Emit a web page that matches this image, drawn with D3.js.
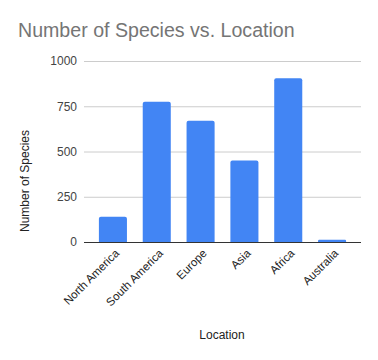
<!DOCTYPE html>
<html><head><meta charset="utf-8">
<script src="https://cdn.jsdelivr.net/npm/d3@7"></script>
<style>body{margin:0;background:#fff;} text{font-family:"Liberation Sans",Arial,sans-serif;}</style>
</head><body>
<svg id="c" width="378" height="360"></svg>
<script>
const categories = ["North America","South America","Europe","Asia","Africa","Australia"];
const species = [140, 775, 670, 450, 905, 12];
const yTicks = [0, 250, 500, 750, 1000];

const svg = d3.select("#c");
const x = d3.scaleBand().domain(categories).range([84, 361]).paddingInner(0.36).paddingOuter(0.34);
const y = d3.scaleLinear().domain([0, 1000]).range([242, 61]);

svg.append("text").attr("x", 18).attr("y", 37).attr("font-size", 19.6).attr("fill", "#757575")
  .text("Number of Species vs. Location");

const yAxis = svg.append("g").attr("transform", "translate(84,0)")
  .call(d3.axisLeft(y).tickValues(yTicks).tickSize(-277).tickPadding(7).tickFormat(d3.format("d")));
yAxis.select(".domain").remove();
yAxis.selectAll(".tick line").attr("stroke", "#cccccc");
yAxis.selectAll(".tick text").attr("font-size", 12).attr("fill", "#444").attr("font-family", "Liberation Sans, Arial, sans-serif");

svg.append("g").selectAll("path").data(species).join("path")
  .attr("fill", "#4285f4")
  .attr("d", (d, i) => {
    const x0 = x(categories[i]), w = x.bandwidth(), y0 = y(d), y1 = y(0), r = Math.min(2, (y1 - y0) / 2);
    return `M${x0},${y1}V${y0 + r}Q${x0},${y0} ${x0 + r},${y0}H${x0 + w - r}Q${x0 + w},${y0} ${x0 + w},${y0 + r}V${y1}Z`;
  });

const xAxis = svg.append("g").attr("transform", "translate(0,242)")
  .call(d3.axisBottom(x).tickSize(0).tickPadding(0));
xAxis.select(".domain").attr("d", "M84,0.5H361").attr("stroke", "#333");
xAxis.selectAll(".tick text").attr("font-size", 11.5).attr("fill", "#222")
  .attr("font-family", "Liberation Sans, Arial, sans-serif")
  .attr("text-anchor", "end").attr("dy", null).attr("y", 0)
  .attr("transform", "translate(7,12) rotate(-45)");

svg.append("text").attr("transform", "translate(29,181) rotate(-90)").attr("text-anchor", "middle")
  .attr("font-size", 12).attr("fill", "#222").text("Number of Species");
svg.append("text").attr("x", 222).attr("y", 339).attr("text-anchor", "middle")
  .attr("font-size", 12).attr("fill", "#222").text("Location");
</script>
</body></html>
